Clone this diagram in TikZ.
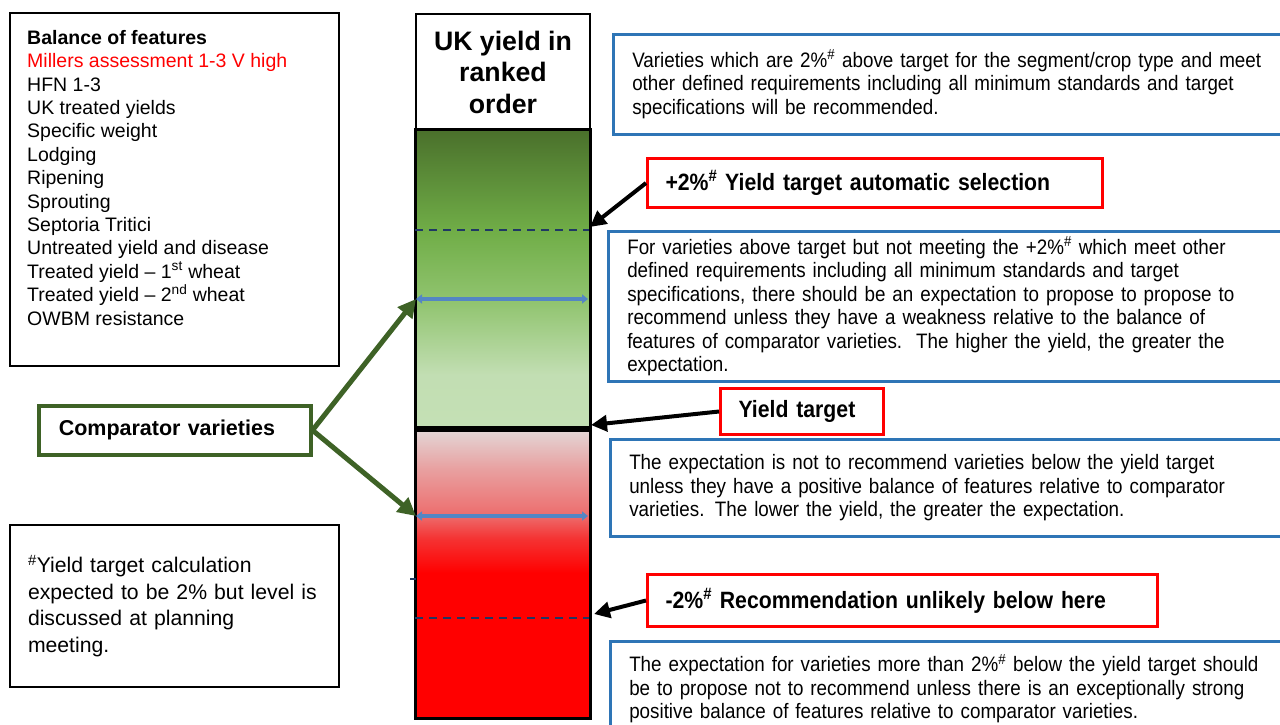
\documentclass[tikz,border=0pt]{standalone}
\usepackage{fontspec}
\setmainfont{Liberation Sans}
\newfontfamily\narrowfont{Liberation Sans}[FakeStretch=0.9]
\usetikzlibrary{arrows.meta,positioning}

\definecolor{noteblue}{RGB}{46,117,182}
\definecolor{leafgreen}{RGB}{62,98,38}
\definecolor{dashnavy}{RGB}{31,56,100}
\definecolor{rangeblue}{RGB}{84,134,196}
\definecolor{rangeedge}{RGB}{55,96,146}

% colour bands of the ranked column
\pgfdeclareverticalshading{greenband}{100bp}{rgb(0bp)=(0.77,0.88,0.71); rgb(25bp)=(0.77,0.88,0.71); rgb(34bp)=(0.76,0.87,0.70); rgb(46bp)=(0.57,0.77,0.44); rgb(58bp)=(0.44,0.68,0.28); rgb(75bp)=(0.29,0.44,0.17); rgb(100bp)=(0.29,0.44,0.17)}
\pgfdeclareverticalshading{redband}{100bp}{rgb(0bp)=(1,0,0); rgb(25bp)=(1,0,0); rgb(50bp)=(1,0,0); rgb(56bp)=(0.96,0.2,0.2); rgb(60bp)=(0.93,0.43,0.43); rgb(68bp)=(0.91,0.63,0.63); rgb(75bp)=(0.89,0.85,0.85); rgb(100bp)=(0.89,0.85,0.85)}

\tikzset{
  plainbox/.style={draw=black, line width=2pt, fill=white},
  notebox/.style={draw=noteblue, line width=2.5pt, fill=white, align=left, inner xsep=19pt,
    font=\narrowfont\fontsize{20.9}{23.5}\selectfont},
  targetbox/.style={draw=red, line width=3pt, fill=white, align=left, inner xsep=18pt,
    font=\narrowfont\bfseries\fontsize{23.6}{25}\selectfont},
  bandbox/.style={draw=black, line width=2pt, anchor=north west, minimum width=174pt},
  pointer/.style={line width=4pt, -{Triangle[length=16pt,width=16pt]}},
  greenpointer/.style={draw=leafgreen, line width=5pt, -{Triangle[length=18pt,width=18pt]}},
  rangearrow/.style={draw=rangeblue, line width=4pt, {Triangle[length=6pt,width=9pt]}-{Triangle[length=6pt,width=9pt]}},
  limitline/.style={draw=dashnavy, line width=2pt, dash pattern=on 8pt off 6pt}
}

\begin{document}
\begin{tikzpicture}[x=1pt, y=-1pt]
\clip (0,0) rectangle (1280,724);

% balance of features
\node[plainbox, anchor=north west, minimum width=329pt, minimum height=353pt] (features) at (9,12) {};
\node[anchor=north west, align=left, inner sep=0pt, font=\fontsize{19.5}{23.4}\selectfont] (featlist) at (27,30)
  {\textbf{Balance of features}\\
   \textcolor{red}{Millers assessment 1-3 V high}\\
   HFN 1-3\\
   UK treated yields\\
   Specific weight\\
   Lodging\\
   Ripening\\
   Sprouting\\
   Septoria Tritici\\
   Untreated yield and disease\\
   Treated yield -- 1\textsuperscript{st} wheat\\
   Treated yield -- 2\textsuperscript{nd} wheat\\
   OWBM resistance};

% footnote
\node[plainbox, anchor=north west, minimum width=329pt, minimum height=162pt, align=left,
  inner xsep=18pt, text width=293pt, font=\fontsize{21.2}{26.5}\selectfont] (footnote) at (9,524)
  {\textsuperscript{\#}Yield target calculation\\ expected to be 2\% but level is\\ discussed at planning\\ meeting.};

% comparator varieties
\node[draw=leafgreen, line width=3.5pt, fill=white, anchor=north west, minimum width=272pt, minimum height=49pt,
  align=left, inner xsep=20pt, text width=232pt, font=\bfseries\fontsize{21.5}{25}\selectfont] (comparator) at (37,404)
  {Comparator varieties};

% ranked column
\node[plainbox, anchor=north west, minimum width=174pt, minimum height=116pt, align=center,
  font=\bfseries\fontsize{26.7}{31.5}\selectfont] (header) at (415,13) {UK yield in\\ ranked\\ order};
\node[bandbox, shading=greenband, minimum height=298pt] (upper) at (415,129) {};
\node[bandbox, shading=redband, minimum height=290pt] (lower) at (415,427) {};
\draw[line width=6pt] (upper.south west) -- (upper.south east);
\draw[line width=2pt] (upper.north west) rectangle (lower.south east);

\coordinate (plusL) at (415,230);  \coordinate (plusR) at (589,230);
\coordinate (minusL) at (415,618); \coordinate (minusR) at (589,618);
\coordinate (hiL) at (416,299);    \coordinate (hiR) at (588,299);
\coordinate (loL) at (416,516);    \coordinate (loR) at (588,516);
\coordinate (tickA) at (410,579);  \coordinate (tickB) at (416,579);

\draw[limitline] (plusL) -- (plusR);
\draw[limitline] (minusL) -- (minusR);
\draw[rangearrow] (hiL) -- (hiR);
\draw[rangearrow] (loL) -- (loR);
\draw[dashnavy, line width=1.5pt] (tickA) -- (tickB);

% notes on the right
\node[notebox, anchor=north west, minimum width=683pt, minimum height=100pt, text width=645pt] (topnote) at (612,33)
  {Varieties which are 2\%\textsuperscript{\#} above target for the segment/crop type and meet\\
   other defined requirements including all minimum standards and target\\
   specifications will be recommended.};
\node[notebox, anchor=north west, minimum width=688pt, minimum height=150pt, text width=650pt] (abovenote) at (607,230)
  {For varieties above target but not meeting the +2\%\textsuperscript{\#} which meet other\\
   defined requirements including all minimum standards and target\\
   specifications, there should be an expectation to propose to propose to\\
   recommend unless they have a weakness relative to the balance of\\
   features of comparator varieties.\ \ The higher the yield, the greater the\\
   expectation.};
\node[notebox, anchor=north west, minimum width=686pt, minimum height=97pt, text width=648pt] (belownote) at (609,438)
  {The expectation is not to recommend varieties below the yield target\\
   unless they have a positive balance of features relative to comparator\\
   varieties. The lower the yield, the greater the expectation.};
\node[notebox, anchor=north west, minimum width=686pt, minimum height=95pt, text width=648pt] (bottomnote) at (609,640)
  {The expectation for varieties more than 2\%\textsuperscript{\#} below the yield target should\\
   be to propose not to recommend unless there is an exceptionally strong\\
   positive balance of features relative to comparator varieties.};

% targets
\node[targetbox, anchor=north west, minimum width=455pt, minimum height=49pt, text width=419pt] (autosel) at (646,157)
  {+2\%\textsuperscript{\#} Yield target automatic selection};
\node[targetbox, anchor=north west, minimum width=163pt, minimum height=46pt, text width=127pt] (ytarget) at (719,387)
  {Yield target};
\node[targetbox, anchor=north west, minimum width=510pt, minimum height=52pt, text width=474pt] (unlikely) at (646,573)
  {-2\%\textsuperscript{\#} Recommendation unlikely below here};

% connectors
\draw[pointer] (autosel.west) -- (590,227);
\draw[pointer] (ytarget.west) -- (591,425);
\draw[pointer] (unlikely.west) -- (594,614);
\draw[greenpointer] (comparator.east) -- (hiL);
\draw[greenpointer] (comparator.east) -- (loL);
\end{tikzpicture}
\end{document}
